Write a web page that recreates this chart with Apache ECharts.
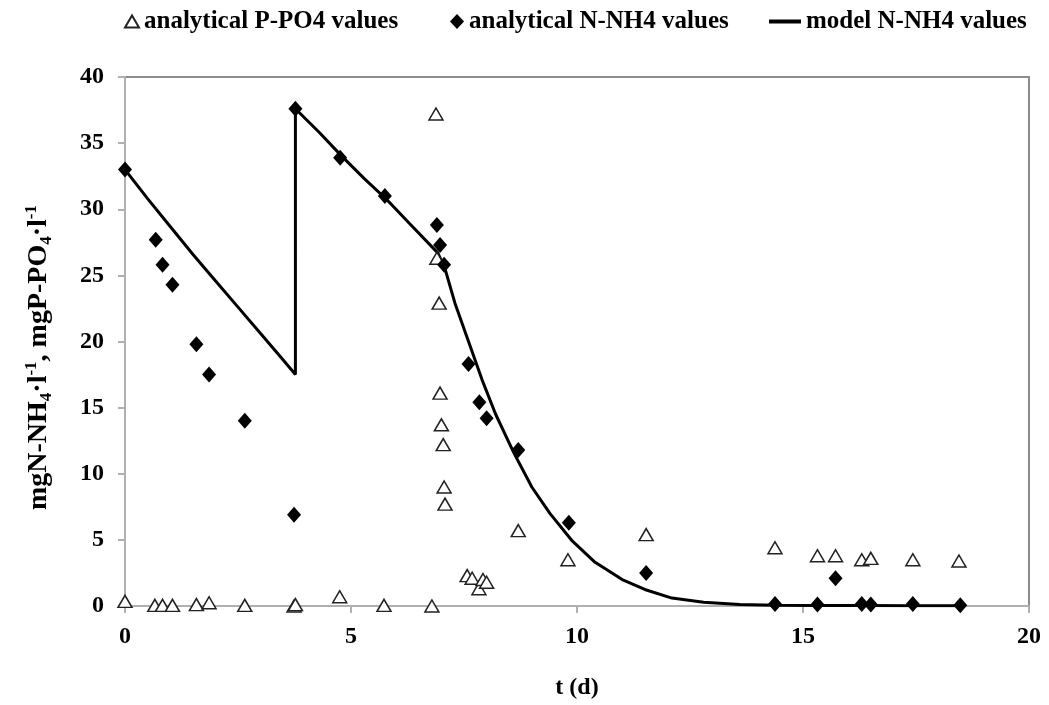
<!DOCTYPE html>
<html>
<head>
<meta charset="utf-8">
<script src="https://cdn.jsdelivr.net/npm/echarts@6/dist/echarts.min.js"></script>
<style>
  html, body { margin: 0; padding: 0; background: #fff; }
  #chart { width: 1049px; height: 705px; }
</style>
</head>
<body>
<div id="chart"></div>
<script>
// t (d) and concentrations
var ppoT   = [0, 0.66, 0.83, 1.05, 1.58, 1.86, 2.65, 3.74, 3.77, 4.75, 5.73, 6.79, 6.88, 6.9, 6.95, 6.97, 7.0, 7.04, 7.06, 7.08, 7.57, 7.68, 7.83, 7.92, 8.0, 8.7, 9.8, 11.53, 14.38, 15.32, 15.72, 16.3, 16.5, 17.43, 18.45];
var ppoVal = [0.35, 0.05, 0.05, 0.05, 0.1, 0.25, 0.05, 0.0, 0.1, 0.7, 0.05, 0.0, 37.2, 26.3, 22.9, 16.1, 13.7, 12.2, 9.0, 7.7, 2.3, 2.1, 1.3, 2.0, 1.8, 5.7, 3.5, 5.4, 4.4, 3.8, 3.8, 3.5, 3.6, 3.5, 3.4];

var nnhT   = [0, 0.68, 0.83, 1.05, 1.58, 1.86, 2.65, 3.74, 3.77, 4.76, 5.75, 6.9, 6.97, 7.06, 7.6, 7.84, 8.0, 8.7, 9.82, 11.53, 14.38, 15.32, 15.72, 16.3, 16.5, 17.43, 18.48];
var nnhVal = [33.0, 27.7, 25.8, 24.3, 19.8, 17.5, 14.0, 6.9, 37.6, 33.9, 31.0, 28.8, 27.3, 25.8, 18.3, 15.4, 14.2, 11.8, 6.3, 2.5, 0.15, 0.12, 2.1, 0.15, 0.12, 0.15, 0.05];

var modelT   = [0, 0.5, 1, 1.5, 2, 2.5, 3, 3.5, 3.77, 3.77, 4.3, 4.8, 5.3, 5.8, 6.3, 6.92, 7.08, 7.3, 7.6, 7.9, 8.2, 8.6, 9.0, 9.4, 9.9, 10.4, 11.0, 11.5, 12.1, 12.8, 13.6, 14.4, 15.3, 16.3, 17.4, 18.48];
var modelVal = [33.0, 30.8, 28.7, 26.6, 24.6, 22.6, 20.6, 18.6, 17.5, 37.6, 35.8, 34.0, 32.3, 30.7, 28.9, 26.7, 25.5, 22.9, 20.0, 17.1, 14.5, 11.6, 9.0, 7.0, 4.9, 3.3, 2.0, 1.25, 0.6, 0.28, 0.12, 0.06, 0.04, 0.03, 0.02, 0.02];

var seriesNames = ['analytical P-PO4 values', 'analytical N-NH4 values', 'model N-NH4 values'];

function pairs(xs, ys) {
    return xs.map(function (x, i) { return [x, ys[i]]; });
}

var font = 'Liberation Serif';
var txt = { fontFamily: font, fontWeight: 'bold', fontSize: 24, color: '#000' };

function legendAt(left, item, w, h) {
    return {
        data: [item], left: left, top: 4, itemWidth: w, itemHeight: h, itemGap: 0,
        textStyle: Object.assign({}, txt, { fontSize: 25 }), selectedMode: false
    };
}

var chart = echarts.init(document.getElementById('chart'));
chart.setOption({
    backgroundColor: '#fff',
    animation: false,
    legend: [
        legendAt(119, seriesNames[0], 14, 12),
        legendAt(445, seriesNames[1], 14, 15),
        legendAt(764, { name: seriesNames[2], icon: 'rect' }, 32, 4)
    ],
    grid: { left: 125, right: 20, top: 77, bottom: 98, show: true, borderColor: '#8c8c8c', borderWidth: 2 },
    xAxis: {
        type: 'value', min: 0, max: 20, interval: 5,
        name: 't (d)', nameLocation: 'middle', nameGap: 70,
        nameTextStyle: txt,
        axisLine: { lineStyle: { color: '#b0b0b0', width: 2 } },
        axisTick: { length: 7, lineStyle: { color: '#b0b0b0', width: 2 } },
        axisLabel: Object.assign({ margin: 19 }, txt),
        splitLine: { show: false }
    },
    yAxis: {
        type: 'value', min: 0, max: 40, interval: 5,
        name: 'mgN-NH{sub|4}·l{sup|-1}, mgP-PO{sub|4}·l{sup|-1}',
        nameLocation: 'middle', nameGap: 70,
        nameTextStyle: Object.assign({}, txt, {
            fontSize: 28,
            lineHeight: 32,
            padding: [0, 32, 0, 0],
            rich: {
                sub: { fontFamily: font, fontWeight: 'bold', fontSize: 17, color: '#000', verticalAlign: 'bottom', lineHeight: 18 },
                sup: { fontFamily: font, fontWeight: 'bold', fontSize: 17, color: '#000', verticalAlign: 'top', lineHeight: 18 }
            }
        }),
        axisLine: { show: true, lineStyle: { color: '#b0b0b0', width: 2 } },
        axisTick: { show: true, length: 7, lineStyle: { color: '#b0b0b0', width: 2 } },
        axisLabel: Object.assign({ margin: 21 }, txt),
        splitLine: { show: false }
    },
    series: [
        {
            name: seriesNames[2], type: 'line', data: pairs(modelT, modelVal),
            symbol: 'none', smooth: false,
            lineStyle: { color: '#000', width: 3 },
            itemStyle: { color: '#000' }, z: 2
        },
        {
            name: seriesNames[0], type: 'scatter', data: pairs(ppoT, ppoVal),
            symbol: 'triangle', symbolSize: [14, 12],
            itemStyle: { color: '#fff', borderColor: '#222', borderWidth: 1.5, opacity: 1 }, z: 3
        },
        {
            name: seriesNames[1], type: 'scatter', data: pairs(nnhT, nnhVal),
            symbol: 'diamond', symbolSize: [14, 16],
            itemStyle: { color: '#000', opacity: 1 }, z: 4
        }
    ]
});
</script>
</body>
</html>
